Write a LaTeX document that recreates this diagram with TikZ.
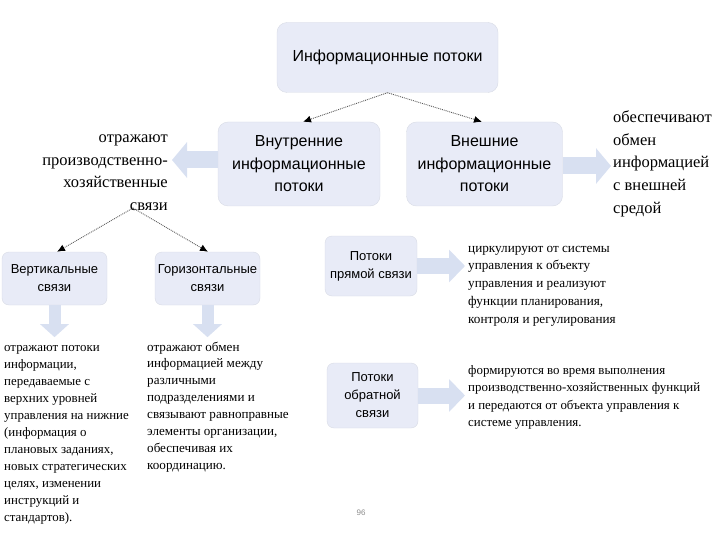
\documentclass[tikz,border=0pt]{standalone}
\usepackage{fontspec}
\setmainfont{Liberation Serif}
\newfontfamily\boxfont{Liberation Sans}
\usetikzlibrary{arrows.meta}
\definecolor{boxfill}{HTML}{E8EBF7}
\definecolor{arrfill}{HTML}{D8E0F1}
\begin{document}
\begin{tikzpicture}[x=1pt,y=-1pt,
  bigbox/.style={fill=boxfill, draw=boxfill!85!gray, rounded corners=10pt, align=center, inner sep=0pt,
    font=\boxfont\fontsize{16}{22.5}\selectfont},
  smallbox/.style={fill=boxfill, draw=boxfill!85!gray, rounded corners=7pt, align=center, inner sep=0pt,
    font=\boxfont\fontsize{13}{18}\selectfont},
  txt/.style={inner sep=0pt, text=black},
  dotconn/.style={densely dotted, draw=black!65, line width=0.9pt, -{Latex[length=8pt,width=7pt,black]}},
  blockarr/.style={draw=arrfill, line width=17pt, -{Triangle[length=15pt,width=35pt]}},
  smallarr/.style={draw=arrfill, line width=16pt, -{Triangle[length=16pt,width=32pt]}},
  downarr/.style={draw=arrfill, line width=12pt, -{Triangle[length=13pt,width=28pt]}}
]
\useasboundingbox (0,0) rectangle (720,540);

% boxes
\node[bigbox, minimum width=221pt, minimum height=70pt] (info) at (387.5,57.5) {Информационные потоки};
\node[bigbox, minimum width=162pt, minimum height=84pt] (inner) at (299,164) {Внутренние\\информационные\\потоки};
\node[bigbox, minimum width=156pt, minimum height=84pt] (outer) at (484.5,164) {Внешние\\информационные\\потоки};
\node[smallbox, minimum width=105pt, minimum height=53pt] (vert) at (54.5,278.5) {Вертикальные\\связи};
\node[smallbox, minimum width=105pt, minimum height=53pt] (horiz) at (207.5,278.5) {Горизонтальные\\связи};
\node[smallbox, minimum width=92pt, minimum height=60pt] (direct) at (371,266) {Потоки\\прямой связи};
\node[smallbox, minimum width=91pt, minimum height=65pt] (feedback) at (372.5,395.5) {Потоки\\обратной\\связи};

% texts
\node[txt, anchor=north east, align=right, font=\fontsize{16.5}{22.5}\selectfont] (intxt) at (168,127)
  {\strut отражают\\производственно-\\хозяйственные\\связи};
\node[txt, anchor=north west, align=left, font=\fontsize{16.5}{22.7}\selectfont] (outtxt) at (613,106.5)
  {\strut обеспечивают\\обмен\\информацией\\с внешней\\средой};
\node[txt, anchor=north west, align=left, font=\fontsize{13.2}{17.8}\selectfont] (dirtxt) at (468,239.5)
  {\strut циркулируют от системы\\управления к объекту\\управления и реализуют\\функции планирования,\\контроля и регулирования};
\node[txt, anchor=north west, align=left, font=\fontsize{12.9}{17.4}\selectfont] (fbtxt) at (468,362)
  {\strut формируются во время выполнения\\производственно-хозяйственных функций\\и передаются от объекта управления к\\системе управления.};
\node[txt, anchor=north west, align=left, font=\fontsize{12.9}{17}\selectfont] (verttxt) at (4,339)
  {\strut отражают потоки\\информации,\\передаваемые с\\верхних уровней\\управления на нижние\\(информация о\\плановых заданиях,\\новых стратегических\\целях, изменении\\инструкций и\\стандартов).};
\node[txt, anchor=north west, align=left, font=\fontsize{13.1}{16.9}\selectfont] (horiztxt) at (147,339)
  {\strut отражают обмен\\информацией между\\различными\\подразделениями и\\связывают равноправные\\элементы организации,\\обеспечивая их\\координацию.};
\node[txt, text=black!45, font=\fontsize{8}{9}\selectfont\boxfont] (pagenum) at (361,513) {96};

% dotted connectors
\draw[dotconn] (info.south) -- ([xshift=4pt]inner.north);
\draw[dotconn] (info.south) -- ([xshift=-2.5pt]outer.north);
\coordinate (split) at (133,208);
\draw[dotconn] (split) -- ([xshift=2.5pt]vert.north);
\draw[dotconn] (split) -- ([xshift=0.5pt]horiz.north);

% block arrows
\draw[blockarr] ([yshift=4pt]inner.west) -- ([yshift=4pt,xshift=4pt]inner.west -| intxt.east);
\draw[blockarr] ([yshift=-2pt]outer.east) -- ([yshift=-2pt,xshift=-2pt]outer.east -| outtxt.west);
\draw[downarr] (vert.south) -- ++(0,32);
\draw[downarr] (horiz.south) -- ++(0,32);
\draw[smallarr] (direct.east) -- ([xshift=-3pt]direct.east -| dirtxt.west);
\draw[smallarr] (feedback.east) -- ([xshift=-3pt]feedback.east -| fbtxt.west);
\end{tikzpicture}
\end{document}
